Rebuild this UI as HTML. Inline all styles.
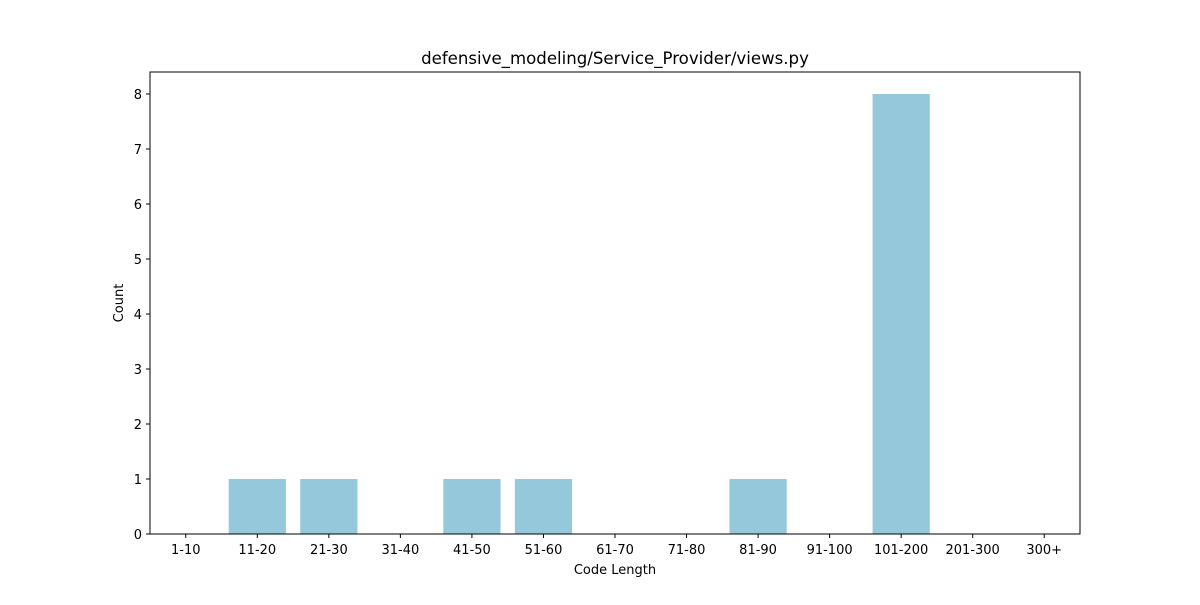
<!DOCTYPE html>
<html><head><meta charset="utf-8"><style>
body{margin:0;background:#fff;}
svg text{font-family:"DejaVu Sans","Liberation Sans",sans-serif;fill:#000;}
</style></head><body>
<svg id="chart" width="1200" height="600" xmlns="http://www.w3.org/2000/svg">
<rect width="1200" height="600" fill="#fff"/>
<text x="615" y="64" font-size="16.6" text-anchor="middle">defensive_modeling/Service_Provider/views.py</text>
<g id="bars"></g>
<g id="xticks"></g>
<g id="yticks"></g>
<rect x="150" y="72" width="930" height="462" fill="none" stroke="#000" stroke-width="1"/>
<text x="615" y="574" font-size="13" text-anchor="middle">Code Length</text>
<text x="123" y="303" font-size="13" text-anchor="middle" transform="rotate(-90 123 303)">Count</text>
</svg>
<script>
const categories=["1-10","11-20","21-30","31-40","41-50","51-60","61-70","71-80","81-90","91-100","101-200","201-300","300+"];
const counts=[0,1,1,0,1,1,0,0,1,0,8,0,0];
const yTicks=[0,1,2,3,4,5,6,7,8];
const L=150,R=1080,T=72,B=534,yMax=8.4;
const step=(R-L)/categories.length;
const xs=i=>L+step*(i+0.5);
const ys=v=>B-(v/yMax)*(B-T);
const NS="http://www.w3.org/2000/svg";
const bars=document.getElementById('bars'),xt=document.getElementById('xticks'),yt=document.getElementById('yticks');
categories.forEach((c,i)=>{
  const w=step*0.8;
  const r=document.createElementNS(NS,'rect');
  r.setAttribute('x',xs(i)-w/2);r.setAttribute('width',w);
  r.setAttribute('y',ys(counts[i]));r.setAttribute('height',B-ys(counts[i]));
  r.setAttribute('fill','#96c8dc');
  
  
  bars.appendChild(r);
  const l=document.createElementNS(NS,'line');
  l.setAttribute('x1',xs(i));l.setAttribute('x2',xs(i));l.setAttribute('y1',B);l.setAttribute('y2',B+4);l.setAttribute('stroke','#000');
  xt.appendChild(l);
  const t=document.createElementNS(NS,'text');
  t.setAttribute('x',xs(i));t.setAttribute('y',B+20);t.setAttribute('font-size','13');t.setAttribute('text-anchor','middle');
  
  
  t.textContent=c;xt.appendChild(t);
});
yTicks.forEach(v=>{
  const l=document.createElementNS(NS,'line');
  l.setAttribute('x1',L-4);l.setAttribute('x2',L);l.setAttribute('y1',ys(v));l.setAttribute('y2',ys(v));l.setAttribute('stroke','#000');
  yt.appendChild(l);
  const t=document.createElementNS(NS,'text');
  t.setAttribute('x',L-8);t.setAttribute('y',ys(v)+5);t.setAttribute('font-size','13');t.setAttribute('text-anchor','end');
  
  
  t.textContent=v;yt.appendChild(t);
});
</script>
</body></html>
